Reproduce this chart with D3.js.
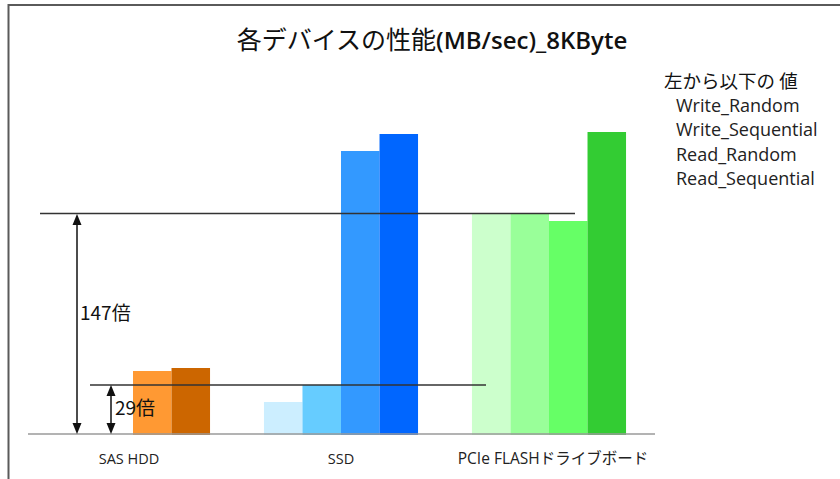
<!DOCTYPE html>
<html>
<head>
<meta charset="utf-8">
<script src="https://cdn.jsdelivr.net/npm/d3@7"></script>
<style>
  html, body { margin: 0; padding: 0; background: #fff; }
  svg { display: block; }
</style>
</head>
<body>
<svg id="chart" width="840" height="479"></svg>
<script>
// ---- data ----
const categories = ["SAS HDD", "SSD", "PCIe FLASHドライブボード"];
const series = ["Write_Random", "Write_Sequential", "Read_Random", "Read_Sequential"];
const writeRandom     = [0,   32, 220];
const writeSequential = [0,   49, 220];
const readRandom      = [63, 283, 213];
const readSequential  = [66, 300, 302];
const titleJa = "各デバイスの性能";
const titleEn = "(MB/sec)_8KByte";
const legendTitle = "左から以下の 値";
const ratioLabels = ["147倍", "29倍"];

// ---- styles ----
const palette = [
  ["#FFD9B3", "#FFB366", "#FF9933", "#CC6600"],
  ["#CCEEFF", "#66CCFF", "#3399FF", "#0066FF"],
  ["#CCFFCC", "#99FF99", "#66FF66", "#33CC33"]
];

const values = [writeRandom, writeSequential, readRandom, readSequential];
const rows = [];
categories.forEach((c, ci) => series.forEach((s, si) => {
  rows.push({cat: c, ci, ser: s, si, v: values[si][ci]});
}));

const svg = d3.select("#chart");
const baseY = 434;

const x0 = d3.scaleBand().domain(categories).range([29, 653]).padding(0);
const x1 = d3.scaleBand().domain(series).range([0, x0.bandwidth()]).paddingInner(0).paddingOuter(0.7);
const y = d3.scaleLinear().domain([0, 320]).range([baseY, baseY - 320]);

// frame
svg.append("line").attr("x1", 8).attr("x2", 840).attr("y1", 5).attr("y2", 5)
  .attr("stroke", "#5a5a5a").attr("stroke-width", 2);
svg.append("line").attr("x1", 8.5).attr("x2", 8.5).attr("y1", 4).attr("y2", 479)
  .attr("stroke", "#5a5a5a").attr("stroke-width", 2);

// title
const title = svg.append("text").attr("x", 432).attr("y", 49)
  .attr("text-anchor", "middle")
  .attr("font-family", "'Noto Sans CJK JP', 'Noto Sans', sans-serif")
  .attr("font-size", 25).attr("fill", "#111");
title.append("tspan").text(titleJa);
title.append("tspan").attr("font-family", "'Open Sans', sans-serif").attr("font-weight", 600)
  .attr("font-size", 24).text(titleEn);

// bars
svg.append("g").selectAll("rect").data(rows.filter(d => d.v > 0)).join("rect")
  .attr("x", d => x0(d.cat) + x1(d.ser))
  .attr("width", x1.bandwidth())
  .attr("y", d => y(d.v))
  .attr("height", d => baseY + 1 - y(d.v))
  .attr("fill", d => palette[d.ci][d.si]);

// baseline
svg.append("line").attr("x1", 28).attr("x2", 655).attr("y1", baseY).attr("y2", baseY)
  .attr("stroke", "#9a9a9a").attr("stroke-width", 1.5);

// x labels
svg.append("g").selectAll("text").data(categories).join("text")
  .attr("x", d => x0(d) + x0.bandwidth() / 2 - (d === "SAS HDD" ? 4 : 0) + (d === "PCIe FLASHドライブボード" ? 4 : 0))
  .attr("y", 464)
  .attr("text-anchor", "middle")
  .attr("font-family", "'Open Sans', 'Noto Sans CJK JP', sans-serif")
  .attr("font-size", d => d === "PCIe FLASHドライブボード" ? 15.5 : 14.5).attr("fill", "#222")
  .text(d => d);

// reference lines
const topV = writeRandom[2];
const lowV = writeSequential[1];
svg.append("line").attr("x1", 40).attr("x2", 575).attr("y1", y(topV) - 0.5).attr("y2", y(topV) - 0.5)
  .attr("stroke", "#333").attr("stroke-width", 1.3);
svg.append("line").attr("x1", 90).attr("x2", 486).attr("y1", y(lowV)).attr("y2", y(lowV))
  .attr("stroke", "#333").attr("stroke-width", 1.3);

// double arrows
function dblArrow(x, yTop, yBot) {
  const g = svg.append("g");
  g.append("line").attr("x1", x).attr("x2", x).attr("y1", yTop + 6).attr("y2", yBot - 6)
    .attr("stroke", "#111").attr("stroke-width", 1.5);
  g.append("path").attr("d", `M${x},${yTop} L${x - 4.5},${yTop + 11} L${x + 4.5},${yTop + 11} Z`).attr("fill", "#111");
  g.append("path").attr("d", `M${x},${yBot} L${x - 4.5},${yBot - 11} L${x + 4.5},${yBot - 11} Z`).attr("fill", "#111");
}
dblArrow(77, y(topV), baseY);
dblArrow(111, y(lowV), baseY);

svg.append("text").attr("x", 80).attr("y", 320)
  .attr("font-family", "'Noto Sans CJK JP', sans-serif").attr("font-size", 19).attr("fill", "#111")
  .text(ratioLabels[0]);
svg.append("text").attr("x", 115).attr("y", 415)
  .attr("font-family", "'Noto Sans CJK JP', sans-serif").attr("font-size", 19).attr("fill", "#111")
  .text(ratioLabels[1]);

// legend-like note
svg.append("text").attr("x", 664).attr("y", 88)
  .attr("font-family", "'Noto Sans CJK JP', sans-serif").attr("font-size", 18.5).attr("fill", "#111")
  .text(legendTitle);
svg.append("g").selectAll("text").data(series).join("text")
  .attr("x", 676)
  .attr("y", (d, i) => 112 + i * 24.3)
  .attr("font-family", "'Open Sans', sans-serif").attr("font-size", 18).attr("fill", "#222")
  .text(d => d);
</script>
</body>
</html>
